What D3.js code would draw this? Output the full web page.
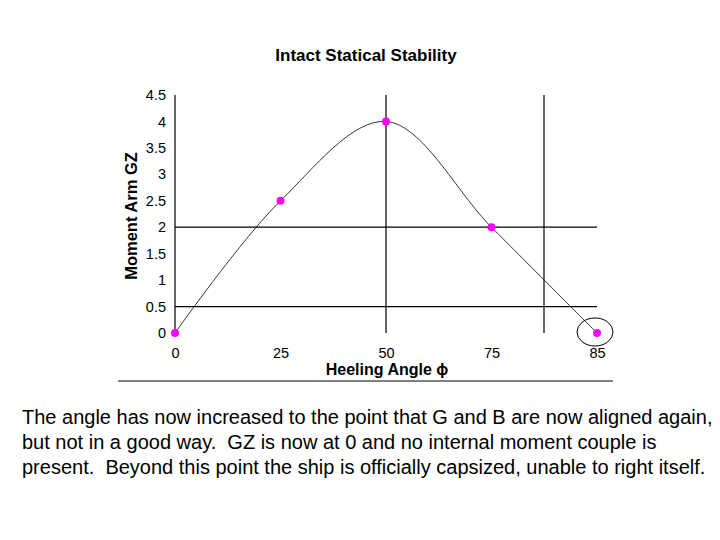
<!DOCTYPE html>
<html><head><meta charset="utf-8">
<script src="https://cdn.jsdelivr.net/npm/d3@7"></script>
<style>body{margin:0;background:#fff}</style>
</head><body>
<script>
const categories = ["0", "25", "50", "75", "85"];
const gzValues = [0, 2.5, 4, 2, 0];
const yTicks = [0, 0.5, 1, 1.5, 2, 2.5, 3, 3.5, 4, 4.5];
const title = "Intact Statical Stability";
const xTitle = "Heeling Angle \u03d5";
const yTitle = "Moment Arm GZ";
const caption = [
  "The angle has now increased to the point that G and B are now aligned again,",
  "but not in a good way.  GZ is now at 0 and no internal moment couple is",
  "present.  Beyond this point the ship is officially capsized, unable to right itself."
];

const FONT = "'Liberation Sans', Arial, sans-serif";
const W = 720, H = 540;
const svg = d3.select("body").append("svg").attr("width", W).attr("height", H)
  .style("font-family", FONT);

const x = d3.scalePoint().domain(categories).range([175, 597]);
const y = d3.scaleLinear().domain([0, 4.5]).range([333, 95]);

// title
svg.append("text").attr("x", 366).attr("y", 61).attr("text-anchor", "middle")
  .attr("font-weight", "bold").attr("font-size", 17).text(title);

// grid / frame lines
const g = svg.append("g").attr("stroke", "#000").attr("stroke-width", 1.2);
g.append("line").attr("x1", x("0")).attr("x2", x("0")).attr("y1", y(4.5)).attr("y2", y(0));
g.append("line").attr("x1", x("50")).attr("x2", x("50")).attr("y1", y(4.5)).attr("y2", y(0));
g.append("line").attr("x1", 544).attr("x2", 544).attr("y1", y(4.5)).attr("y2", y(0));
[2, 0.5].forEach(v => {
  g.append("line").attr("x1", x("0")).attr("x2", x("85")).attr("y1", y(v)).attr("y2", y(v));
});
g.append("line").attr("x1", 118).attr("x2", 613).attr("y1", 381).attr("y2", 381);

// y tick labels
const yAxis = d3.axisLeft(y).tickValues(yTicks).tickSize(0).tickPadding(0)
  .tickFormat(d => String(d));
const ya = svg.append("g").attr("transform", "translate(166,0)").call(yAxis);
ya.select(".domain").remove();
ya.attr("font-family", FONT).attr("font-size", 14.5);
ya.selectAll("text").attr("fill", "#000");

// x tick labels
const xAxis = d3.axisBottom(x).tickSize(0).tickPadding(0);
const xa = svg.append("g").attr("transform", "translate(0,348)").call(xAxis);
xa.select(".domain").remove();
xa.attr("font-family", FONT).attr("font-size", 14.5);
xa.selectAll("text").attr("fill", "#000");

// axis titles
svg.append("text").attr("x", 387).attr("y", 375).attr("text-anchor", "middle")
  .attr("font-weight", "bold").attr("font-size", 16).text(xTitle);
svg.append("text").attr("transform", "translate(137,216) rotate(-90)").attr("text-anchor", "middle")
  .attr("font-weight", "bold").attr("font-size", 16.5).text(yTitle);

// curve
const data = categories.map((c, i) => ({c, v: gzValues[i]}));
const line = d3.line().x(d => x(d.c)).y(d => y(d.v)).curve(d3.curveCatmullRom.alpha(0.5));
svg.append("path").datum(data).attr("d", line).attr("fill", "none")
  .attr("stroke", "#000").attr("stroke-width", 0.8);

// markers
svg.selectAll("circle.pt").data(data).enter().append("circle").attr("class", "pt")
  .attr("cx", d => x(d.c)).attr("cy", d => y(d.v)).attr("r", 4).attr("fill", "#ff00ff");

// highlight ellipse around last point
const last = data[data.length - 1];
svg.append("ellipse").attr("cx", x(last.c) - 2).attr("cy", y(last.v) - 1).attr("rx", 18).attr("ry", 14)
  .attr("fill", "none").attr("stroke", "#000").attr("stroke-width", 1);

// caption
svg.append("g").selectAll("text").data(caption).enter().append("text")
  .attr("x", 22).attr("y", (d, i) => 424 + i * 25).attr("font-size", 20)
  .style("white-space", "pre").text(d => d);
</script>
</body></html>
